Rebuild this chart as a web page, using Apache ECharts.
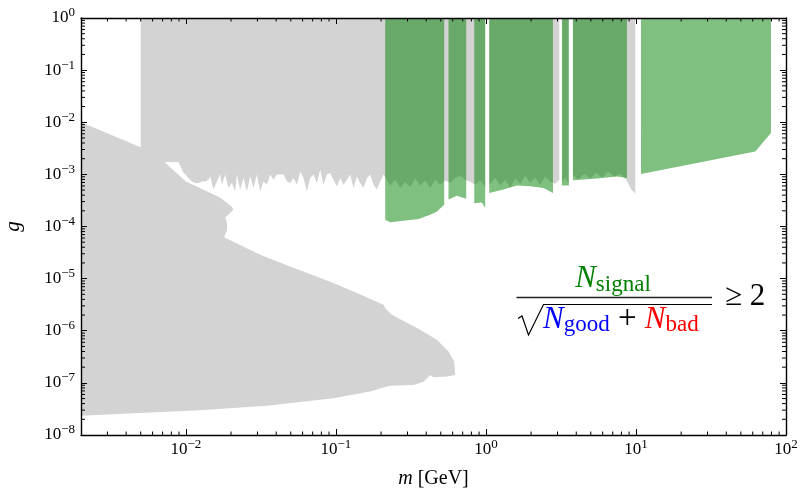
<!DOCTYPE html>
<html>
<head>
<meta charset="utf-8">
<script src="https://cdn.jsdelivr.net/npm/echarts@6/dist/echarts.min.js"></script>
<style>
html, body {margin: 0; padding: 0; background: #fff;}
#chart {width: 801px; height: 491px;}
</style>
</head>
<body>
<div id="chart"></div>
<script>
// lower-left excluded region, outline [m, g]
var lowerRegion = [
    [0.002, 1.0e-2], [0.005, 3.3e-3], [0.0072, 1.73e-3], [0.0100, 7.3e-4], [0.0169, 3.6e-4],
    [0.0203, 2.4e-4], [0.0207, 2.1e-4], [0.0183, 1.47e-4], [0.0188, 1.18e-4], [0.0188, 8.6e-5],
    [0.0180, 6.2e-5], [0.0313, 2.87e-5], [0.0495, 1.71e-5], [0.0964, 8.2e-6], [0.131, 5.65e-6],
    [0.2075, 3.14e-6], [0.213, 2.71e-6], [0.236, 2.02e-6], [0.365, 1.04e-6], [0.471, 6.7e-7],
    [0.563, 4.0e-7], [0.615, 2.56e-7], [0.624, 1.42e-7], [0.55, 1.32e-7], [0.448, 1.28e-7],
    [0.425, 1.42e-7], [0.384, 1.05e-7], [0.329, 9.1e-8], [0.23, 8.8e-8], [0.219, 8.5e-8],
    [0.169, 6.8e-8], [0.0964, 5.07e-8], [0.0347, 3.65e-8], [0.0124, 3.0e-8], [0.00448, 2.6e-8],
    [0.002, 2.35e-8]
];

// upper excluded band (g up to 1), lower edge [m, g]
var band1 = [
    [0.005, 1.73e-3], [0.00893, 1.73e-3], [0.0096, 1.1e-3], [0.01041, 8.5e-4], [0.01096, 7.3e-4],
    [0.01153, 6.8e-4], [0.01213, 6.8e-4], [0.01279, 7.3e-4], [0.01345, 7.3e-4], [0.01415, 7.9e-4],
    [0.01452, 9.1e-4], [0.01528, 5.1e-4], [0.01610, 7.3e-4], [0.01693, 9.9e-4], [0.01738, 6.3e-4],
    [0.01828, 9.9e-4], [0.01923, 5.5e-4], [0.02026, 6.8e-4], [0.02131, 4.7e-4], [0.02188, 9.9e-4],
    [0.02301, 5.1e-4], [0.02421, 8.5e-4], [0.02551, 4.7e-4], [0.02683, 9.1e-4], [0.02822, 5.5e-4],
    [0.02973, 9.9e-4], [0.03128, 4.7e-4], [0.03290, 7.3e-4], [0.03467, 6.3e-4], [0.03648, 9.9e-4],
    [0.03837, 7.9e-4], [0.04044, 9.9e-4], [0.04253, 9.9e-4], [0.04474, 9.9e-4], [0.04713, 7.3e-4],
    [0.04958, 6.8e-4], [0.05215, 8.5e-4], [0.05495, 6.3e-4], [0.05781, 1.14e-3], [0.06081, 8.5e-4],
    [0.06406, 4.7e-4], [0.06739, 8.5e-4], [0.07089, 9.9e-4], [0.07468, 6.8e-4], [0.07856, 1.23e-3],
    [0.08264, 6.3e-4], [0.0871, 9.9e-4], [0.09162, 1.06e-3], [0.0964, 7.9e-4], [0.1016, 5.9e-4],
    [0.1068, 8.5e-4], [0.1124, 6.3e-4], [0.1184, 7.9e-4], [0.1245, 9.9e-4], [0.131, 5.5e-4],
    [0.138, 9.1e-4], [0.1452, 6.8e-4], [0.1528, 5.5e-4], [0.161, 8.5e-4], [0.1693, 9.9e-4],
    [0.1781, 6.3e-4], [0.1876, 5.1e-4], [0.1973, 7.3e-4], [0.2076, 9.9e-4], [0.2301, 6.1e-4],
    [0.2484, 7.9e-4], [0.2683, 5.5e-4], [0.2897, 7.2e-4], [0.3129, 5.8e-4], [0.3378, 8.3e-4],
    [0.3648, 6.1e-4], [0.3939, 7.6e-4], [0.4253, 5.5e-4], [0.4592, 7.9e-4], [0.4958, 6.3e-4],
    [0.5354, 7.6e-4], [0.5781, 6.9e-4], [0.6242, 8.6e-4], [0.674, 9.4e-4], [0.7278, 7.9e-4],
    [0.7858, 7.2e-4], [0.8485, 6.3e-4], [0.9162, 7.6e-4], [0.989, 5.8e-4]
];
var band2 = [
    [1.052, 6.3e-4], [1.153, 8.6e-4], [1.245, 6.1e-4], [1.345, 7.9e-4], [1.452, 5.5e-4],
    [1.568, 8.3e-4], [1.693, 6.6e-4], [1.828, 9.4e-4], [1.974, 6.9e-4], [2.131, 8.6e-4],
    [2.301, 6.3e-4], [2.485, 9.0e-4], [2.683, 7.2e-4], [2.897, 6.6e-4], [3.082, 7.9e-4]
];
var band3 = [[3.227, 7.2e-4], [3.38, 8.6e-4], [3.538, 6.9e-4]];
var band4 = [
    [3.80, 9.9e-4], [4.124, 7.9e-4], [4.522, 1.03e-3], [4.958, 8.3e-4], [5.437, 1.08e-3],
    [5.961, 8.6e-4], [6.536, 1.12e-3], [7.167, 9.0e-4], [7.858, 1.03e-3], [8.616, 7.9e-4],
    [9.305, 5.1e-4], [9.893, 4.3e-4]
];

// signal reach, lower edge of each green region [m, g]
var reach1 = [[0.2132, 1.35e-4], [0.2301, 1.2e-4], [0.3556, 1.39e-4], [0.4253, 1.68e-4], [0.471, 1.95e-4], [0.527, 2.6e-4]];
var reach2 = [[0.563, 3.3e-4], [0.6406, 3.9e-4], [0.739, 3.4e-4]];
var reach3 = [[0.836, 2.8e-4], [0.94, 2.9e-4], [0.989, 2.26e-4]];
var reach4 = [[1.052, 4.4e-4], [1.31, 5.1e-4], [1.609, 6.1e-4], [1.974, 5.9e-4], [2.421, 5.5e-4], [2.797, 4.4e-4]];
var reach5 = [[3.211, 6.1e-4], [3.575, 6.1e-4]];
var reach6 = [[3.80, 7.7e-4], [5.495, 8.3e-4], [7.47, 9.1e-4], [8.71, 8.5e-4]];
var reach7 = [[10.8, 1.02e-3], [62.4, 2.76e-3], [79.4, 6.2e-3]];

var xMinor = [0.003, 0.004, 0.005, 0.006, 0.007, 0.008, 0.009,
    0.02, 0.03, 0.04, 0.05, 0.06, 0.07, 0.08, 0.09,
    0.2, 0.3, 0.4, 0.5, 0.6, 0.7, 0.8, 0.9,
    2, 3, 4, 5, 6, 7, 8, 9,
    20, 30, 40, 50, 60, 70, 80, 90];
var yMinor = [];
[1e-8, 1e-7, 1e-6, 1e-5, 1e-4, 1e-3, 1e-2, 1e-1].forEach(function (d) {
    for (var k = 2; k <= 9; k++) yMinor.push(+(k * d).toPrecision(2));
});

var GRAY = '#d3d3d3', GREEN = 'rgba(0,128,0,0.5)';
var SERIF = 'Liberation Serif';

// closed outline of a region that reaches up to g = 1
function toTop(edge) {
    return [[edge[0][0], 1]].concat(edge, [[edge[edge.length - 1][0], 1]]);
}

function regionSeries(pts, color, z) {
    return {
        type: 'custom', data: pts, silent: true, z: z, clip: true,
        renderItem: function (params, api) {
            if (params.dataIndex !== 0) return null;
            return {
                type: 'polygon',
                shape: {points: pts.map(function (p) { return api.coord(p); })},
                style: {fill: color}
            };
        }
    };
}

function tickSeries(vals, isX) {
    return {
        type: 'custom', silent: true, z: 6,
        data: vals.map(function (v) { return isX ? [v, 1e-8] : [0.002, v]; }),
        renderItem: function (params, api) {
            var v = api.value(isX ? 0 : 1);
            var a = api.coord(isX ? [v, 1e-8] : [0.002, v]);
            var b = api.coord(isX ? [v, 1] : [100, v]);
            var L = isX ? 3.5 : 4;
            var st = {stroke: '#000', lineWidth: 1};
            return {
                type: 'group', children: isX ? [
                    {type: 'line', shape: {x1: a[0], y1: a[1], x2: a[0], y2: a[1] - L}, style: st},
                    {type: 'line', shape: {x1: b[0], y1: b[1], x2: b[0], y2: b[1] + L}, style: st}
                ] : [
                    {type: 'line', shape: {x1: a[0], y1: a[1], x2: a[0] + L, y2: a[1]}, style: st},
                    {type: 'line', shape: {x1: b[0], y1: b[1], x2: b[0] - L, y2: b[1]}, style: st}
                ]
            };
        }
    };
}

function powLabel(v) {
    var lg = Math.log10(v), e = Math.round(lg);
    if (Math.abs(lg - e) > 1e-6) return '';
    return '{b|10}{s|' + (e < 0 ? '\u2212' + (-e) : e) + '}';
}
var labelRich = {
    b: {fontFamily: SERIF, fontSize: 17, lineHeight: 23, color: '#000'},
    s: {fontFamily: SERIF, fontSize: 13, lineHeight: 13, verticalAlign: 'top', color: '#000'}
};
var axisLine = {show: true, lineStyle: {color: '#000', width: 1.4}};
var axisTick = {show: true, inside: true, length: 6, lineStyle: {color: '#000', width: 1}};

var chart = echarts.init(document.getElementById('chart'), null, {renderer: 'canvas'});
var option = {
    animation: false,
    backgroundColor: '#fff',
    grid: {left: 81, right: 15, top: 18, bottom: 56, containLabel: false, outerBoundsMode: 'none'},
    xAxis: [{
        type: 'log', logBase: 10, min: 0.002, max: 100, position: 'bottom', z: 5,
        axisLine: axisLine, axisTick: axisTick, splitLine: {show: false},
        axisLabel: {formatter: powLabel, rich: labelRich, margin: 3, showMinLabel: true, showMaxLabel: true},
        name: '{i|m} [GeV]', nameLocation: 'middle', nameGap: 34,
        nameTextStyle: {fontFamily: SERIF, fontSize: 20, color: '#000',
            rich: {i: {fontFamily: SERIF, fontSize: 20, fontStyle: 'italic', color: '#000'}}}
    }, {
        type: 'log', logBase: 10, min: 0.002, max: 100, position: 'top', z: 5,
        axisLine: axisLine, axisTick: axisTick, axisLabel: {show: false}, splitLine: {show: false}
    }],
    yAxis: [{
        type: 'log', logBase: 10, min: 1e-8, max: 1, position: 'left', z: 5,
        axisLine: axisLine, axisTick: axisTick, splitLine: {show: false},
        axisLabel: {formatter: powLabel, rich: labelRich, margin: 6},
        name: 'g', nameLocation: 'middle', nameGap: 57,
        nameTextStyle: {fontFamily: SERIF, fontSize: 21, fontStyle: 'italic', color: '#000'}
    }, {
        type: 'log', logBase: 10, min: 1e-8, max: 1, position: 'right', z: 5,
        axisLine: axisLine, axisTick: axisTick, axisLabel: {show: false}, splitLine: {show: false}
    }],
    series: [
        regionSeries(lowerRegion, GRAY, 1),
        regionSeries(toTop(band1), GRAY, 1),
        regionSeries(toTop(band2), GRAY, 1),
        regionSeries(toTop(band3), GRAY, 1),
        regionSeries(toTop(band4), GRAY, 1),
        regionSeries(toTop(reach1), GREEN, 2),
        regionSeries(toTop(reach2), GREEN, 2),
        regionSeries(toTop(reach3), GREEN, 2),
        regionSeries(toTop(reach4), GREEN, 2),
        regionSeries(toTop(reach5), GREEN, 2),
        regionSeries(toTop(reach6), GREEN, 2),
        regionSeries(toTop(reach7), GREEN, 2),
        tickSeries(xMinor, true),
        tickSeries(yMinor, false)
    ],
    graphic: [
        {   // numerator
            type: 'text', x: 613, y: 262, z: 10,
            style: {
                text: '{n|N}{s|signal}', align: 'center', verticalAlign: 'top',
                rich: {
                    n: {fontFamily: SERIF, fontSize: 31, lineHeight: 34, fontStyle: 'italic', fill: '#008000'},
                    s: {fontFamily: SERIF, fontSize: 23, lineHeight: 23, verticalAlign: 'bottom', fill: '#008000'}
                }
            }
        },
        {   // fraction bar
            type: 'line', z: 10,
            shape: {x1: 516.5, y1: 297.5, x2: 712, y2: 297.5},
            style: {stroke: '#222', lineWidth: 1.3}
        },
        {   // radical
            type: 'polyline', z: 10,
            shape: {points: [[518, 318.5], [522, 316], [528.5, 335], [543.5, 304.5], [712, 304.5]]},
            style: {stroke: '#000', lineWidth: 1.2, fill: null}
        },
        {   // denominator
            type: 'text', x: 543, y: 302.5, z: 10,
            style: {
                text: '{nb|N}{sb|good}{p| + }{nr|N}{sr|bad}', align: 'left', verticalAlign: 'top',
                rich: {
                    nb: {fontFamily: SERIF, fontSize: 31, lineHeight: 34, fontStyle: 'italic', fill: '#0000ff'},
                    sb: {fontFamily: SERIF, fontSize: 23, lineHeight: 23, verticalAlign: 'bottom', fill: '#0000ff'},
                    p: {fontFamily: SERIF, fontSize: 33, lineHeight: 34, fill: '#000'},
                    nr: {fontFamily: SERIF, fontSize: 31, lineHeight: 34, fontStyle: 'italic', fill: '#ff0000'},
                    sr: {fontFamily: SERIF, fontSize: 23, lineHeight: 23, verticalAlign: 'bottom', fill: '#ff0000'}
                }
            }
        },
        {
            type: 'text', x: 725, y: 297, z: 10,
            style: {text: '\u2265 2', fontFamily: SERIF, fontSize: 31, fill: '#000', align: 'left', verticalAlign: 'middle'}
        }
    ]
};
chart.setOption(option);
</script>
</body>
</html>
